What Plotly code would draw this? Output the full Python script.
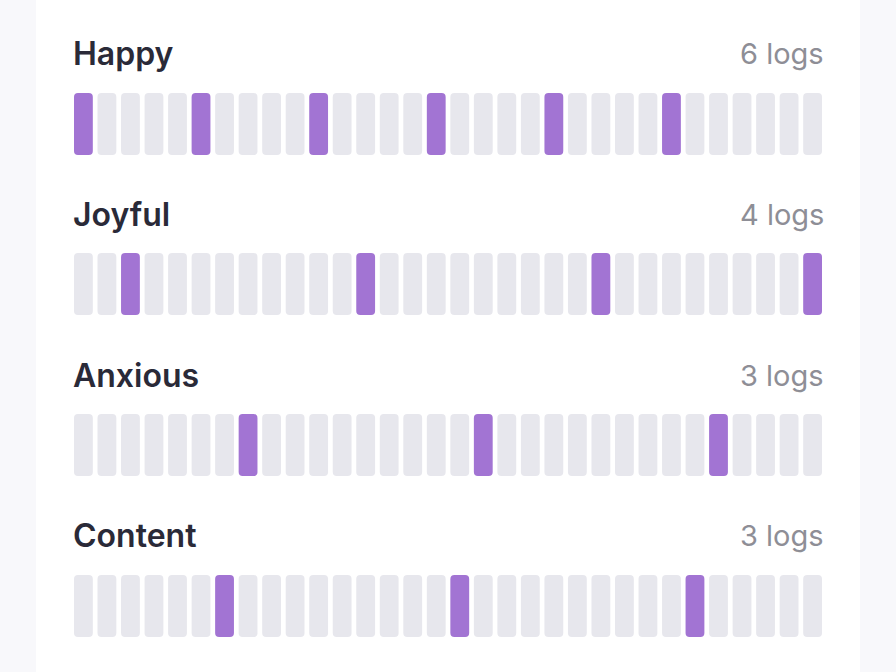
import plotly.graph_objects as go

# ---- data ----
moods = ["Happy", "Joyful", "Anxious", "Content"]
log_labels = ["6 logs", "4 logs", "3 logs", "3 logs"]
n_days = 32
days = list(range(n_days))
logged_days = [
    [0, 5, 10, 15, 20, 25],
    [2, 12, 22, 31],
    [7, 17, 27],
    [6, 16, 26],
]

# ---- style ----
PURPLE = "#a274d3"
EMPTY = "#e7e7ed"
TITLE_C = "#2a2a38"
SUB_C = "#8e8e96"
BG = "#f8f8fb"

row_centers = [124, 284, 445, 606]
title_y = [53, 214, 375, 535]
bar_h = 62

fig = go.Figure()
for r, mood in enumerate(moods):
    colors = [PURPLE if d in logged_days[r] else EMPTY for d in days]
    fig.add_trace(go.Bar(
        x=days,
        y=[bar_h] * n_days,
        base=row_centers[r] - bar_h / 2,
        width=0.8,
        marker=dict(color=colors, line=dict(width=0), cornerradius=4),
        hoverinfo="skip",
        showlegend=False,
    ))
    fig.add_annotation(
        x=0, xref="paper", xanchor="left", y=title_y[r], yref="y",
        yanchor="middle", text=mood, showarrow=False,
        font=dict(family="Inter", size=32, color=TITLE_C, weight=600),
        xshift=-3,
    )
    fig.add_annotation(
        x=1, xref="paper", xanchor="right", y=title_y[r], yref="y",
        yanchor="middle", text=log_labels[r], showarrow=False,
        font=dict(family="Inter", size=29, color=SUB_C),
        xshift=4,
    )

# white card
fig.add_shape(type="rect", xref="paper", yref="paper",
              x0=(36 - 74) / 748, x1=(860 - 74) / 748, y0=-0.05, y1=1.05,
              fillcolor="white", line=dict(width=0), layer="below")

fig.update_layout(
    width=896, height=672,
    margin=dict(l=74, r=74, t=0, b=0),
    paper_bgcolor=BG, plot_bgcolor="rgba(0,0,0,0)",
    barmode="overlay",
    xaxis=dict(range=[-0.4, n_days - 0.6], visible=False, fixedrange=True),
    yaxis=dict(range=[672, 0], visible=False, fixedrange=True),
)

fig.write_html("out.html")
